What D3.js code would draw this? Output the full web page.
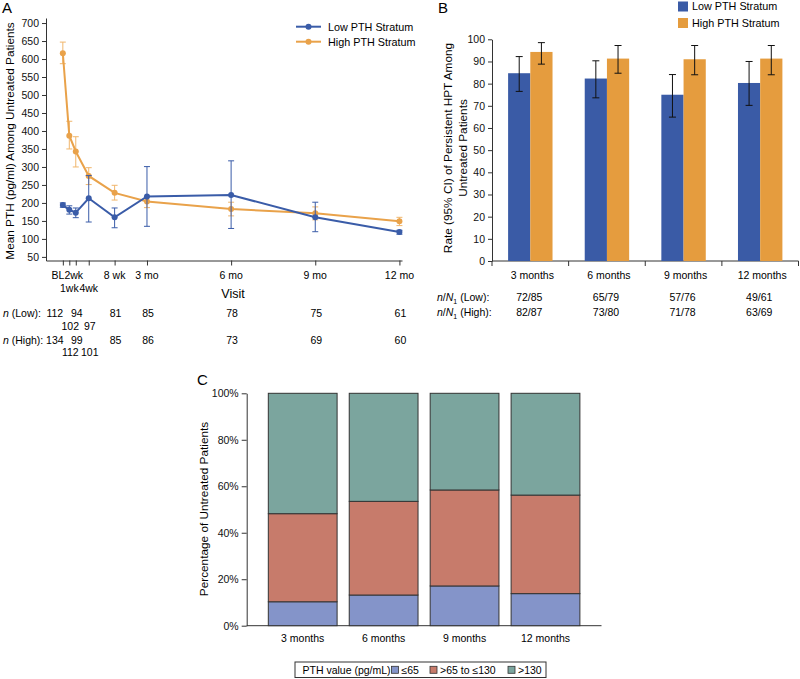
<!DOCTYPE html>
<html><head><meta charset="utf-8">
<script src="https://cdn.jsdelivr.net/npm/d3@7"></script>
<style>
body{margin:0;background:#fff;}
svg{display:block;font-family:"Liberation Sans",Arial,sans-serif;}
</style></head>
<body><svg id="c" width="800" height="679"></svg>
<script>
// ---------- Panel A data ----------
const visitWeeks = [0, 1, 2, 4, 8, 13, 26, 39, 52];
const visitLabels = ["BL", "1wk", "2wk", "4wk", "8 wk", "3 mo", "6 mo", "9 mo", "12 mo"];
const lowMean = [194, 181, 173, 213, 160, 218, 222, 160, 119];
const lowLo   = [188, 169, 159, 147, 131, 135, 129, 120, 113];
const lowHi   = [200, 192, 186, 276, 186, 301, 317, 202, 124];
const highMean = [616, 387, 343, 275, 228, 204, 183, 171, 149];
const highLo   = [587, 350, 300, 251, 208, 187, 164, 153, 137];
const highHi   = [647, 427, 384, 298, 249, 218, 202, 189, 160];
const nLow  = [112, 102, 94, 97, 81, 85, 78, 75, 61];
const nHigh = [134, 112, 99, 101, 85, 86, 73, 69, 60];
const yTicksA = [50, 100, 150, 200, 250, 300, 350, 400, 450, 500, 550, 600, 650, 700];

// ---------- Panel B data ----------
const months = ["3 months", "6 months", "9 months", "12 months"];
const strata = ["Low PTH Stratum", "High PTH Stratum"];
const rateLow  = [84.7, 82.3, 75.0, 80.3];
const rateLowLo = [76.5, 73.6, 64.9, 70.2];
const rateLowHi = [92.2, 90.3, 84.1, 90.0];
const rateHigh = [94.3, 91.3, 91.0, 91.3];
const rateHighLo = [88.8, 84.7, 84.0, 84.0];
const rateHighHi = [98.5, 97.2, 97.2, 97.2];
const nNLow  = ["72/85", "65/79", "57/76", "49/61"];
const nNHigh = ["82/87", "73/80", "71/78", "63/69"];
const yTicksB = [0, 10, 20, 30, 40, 50, 60, 70, 80, 90, 100];

// ---------- Panel C data ----------
const pthCats = ["≤65", ">65 to ≤130", ">130"];
const pthLe65   = [10.3, 13.2, 17.1, 13.8];
const pth65to130 = [37.9, 40.3, 41.3, 42.4];
const pthGt130  = [51.8, 46.5, 41.6, 43.8];
const yTicksC = [0, 20, 40, 60, 80, 100];

// ---------- styles ----------
const BLUE = "#3a5ca8", ORANGE = "#e9a24a", ORANGE_ERR = "#f0b66c";
const BAR_BLUE = "#3a5ba6", BAR_ORANGE = "#e59c3e";
const C_COLORS = ["#8494c9", "#c77b6b", "#7ba59e"];
const AXC = "#333";
const FS = 10.5;

const svg = d3.select("#c");

function styleAxis(g){
  g.select(".domain").attr("stroke", AXC);
  g.selectAll(".tick line").attr("stroke", AXC);
  g.selectAll(".tick text").attr("fill", "#111").style("font-size", FS + "px").style("font-family", '"Liberation Sans",Arial,sans-serif');
}

// ================= PANEL A =================
const xA = d3.scaleLinear().domain([-2.6, 52.4]).range([46, 402]);
const yA = d3.scaleLinear().domain([40, 714]).range([260.5, 18]);

svg.append("text").attr("x", 2).attr("y", 13).style("font-size", "15px").text("A");

const gYA = svg.append("g").attr("transform", "translate(46,0)")
  .call(d3.axisLeft(yA).tickValues(yTicksA).tickSize(4).tickSizeOuter(0).tickPadding(3));
styleAxis(gYA);

const gXA = svg.append("g").attr("transform", "translate(0,260.5)")
  .call(d3.axisBottom(xA).tickValues(visitWeeks).tickSize(5).tickSizeOuter(0).tickFormat(""));
styleAxis(gXA);

const labelRowA = [0, 1, 0, 1, 0, 0, 0, 0, 0];
const labelDxA = [-5, 0, -2, 0, 0, 0, 0, 0, 0];
svg.append("g").selectAll("text").data(visitWeeks).join("text")
  .attr("x", (d, i) => xA(d) + labelDxA[i])
  .attr("y", (d, i) => labelRowA[i] ? 291.5 : 279.3)
  .attr("text-anchor", "middle").style("font-size", FS + "px")
  .text((d, i) => visitLabels[i]);

svg.append("text").attr("x", 233).attr("y", 298).attr("text-anchor", "middle")
  .style("font-size", "12.5px").text("Visit");

svg.append("text").attr("transform", "translate(14,141) rotate(-90)")
  .attr("text-anchor", "middle").style("font-size", "11.8px")
  .text("Mean PTH (pg/ml) Among Untreated Patients");

function drawSeries(mean, lo, hi, color, errColor){
  const g = svg.append("g");
  g.selectAll("line.eb").data(visitWeeks).join("line").attr("class", "eb")
    .attr("x1", d => xA(d)).attr("x2", d => xA(d))
    .attr("y1", (d, i) => yA(lo[i])).attr("y2", (d, i) => yA(hi[i]))
    .attr("stroke", errColor).attr("stroke-width", 1);
  [lo, hi].forEach(arr => {
    g.selectAll(null).data(visitWeeks).join("line")
      .attr("x1", d => xA(d) - 3).attr("x2", d => xA(d) + 3)
      .attr("y1", (d, i) => yA(arr[i])).attr("y2", (d, i) => yA(arr[i]))
      .attr("stroke", errColor).attr("stroke-width", 1);
  });
  const line = d3.line().x((d, i) => xA(visitWeeks[i])).y(d => yA(d));
  g.append("path").datum(mean).attr("d", line).attr("fill", "none")
    .attr("stroke", color).attr("stroke-width", 2);
  g.selectAll("circle").data(mean).join("circle")
    .attr("cx", (d, i) => xA(visitWeeks[i])).attr("cy", d => yA(d)).attr("r", 3)
    .attr("fill", color);
}
drawSeries(highMean, highLo, highHi, ORANGE, ORANGE_ERR);
drawSeries(lowMean, lowLo, lowHi, BLUE, BLUE);

// legend A
const legA = svg.append("g");
[[BLUE, strata[0], 26.7], [ORANGE, strata[1], 41.7]].forEach(([c, t, y]) => {
  legA.append("line").attr("x1", 296).attr("x2", 321).attr("y1", y).attr("y2", y)
    .attr("stroke", c).attr("stroke-width", 2);
  legA.append("circle").attr("cx", 308.5).attr("cy", y).attr("r", 3).attr("fill", c);
  legA.append("text").attr("x", 328).attr("y", y + 3.8).style("font-size", "10.8px").text(t);
});

// n rows A
function nRow(label, vals, y1, y2){
  const t = svg.append("text").attr("x", 3).attr("y", y1 + 3.8).style("font-size", FS + "px");
  t.append("tspan").style("font-style", "italic").text("n");
  t.append("tspan").text(label);
  svg.append("g").selectAll("text").data(vals).join("text")
    .attr("x", (d, i) => xA(visitWeeks[i]) + (i === 0 ? -8 : 1))
    .attr("y", (d, i) => (labelRowA[i] ? y2 : y1) + 3.8)
    .attr("text-anchor", "middle").style("font-size", FS + "px").text(d => d);
}
nRow(" (Low):", nLow, 313, 326);
nRow(" (High):", nHigh, 340, 352);

// ================= PANEL B =================
const xB = d3.scaleBand().domain(months).range([492, 798.5]).padding(0);
const xB1 = d3.scaleBand().domain(strata).range([0, xB.bandwidth()]).paddingInner(0).paddingOuter(0.725);
const yB = d3.scaleLinear().domain([0, 100]).range([261, 39.3]);

svg.append("text").attr("x", 438).attr("y", 12.5).style("font-size", "15px").text("B");

const gYB = svg.append("g").attr("transform", "translate(492,0)")
  .call(d3.axisLeft(yB).tickValues(yTicksB).tickSize(4).tickSizeOuter(0).tickPadding(3));
styleAxis(gYB);

const gXB = svg.append("g").attr("transform", "translate(0,261)");
gXB.append("line").attr("x1", 492).attr("x2", 798.5).attr("y1", 0).attr("y2", 0).attr("stroke", AXC);
const bounds = months.map(m => xB(m)).concat([xB(months[3]) + xB.bandwidth()]);
gXB.selectAll("line.t").data(bounds).join("line").attr("class", "t")
  .attr("x1", d => d).attr("x2", d => d).attr("y1", 0).attr("y2", 5).attr("stroke", AXC);
gXB.selectAll("text").data(months).join("text")
  .attr("x", d => xB(d) + xB.bandwidth() / 2 + 2).attr("y", 18.3)
  .attr("text-anchor", "middle").style("font-size", FS + "px").text(d => d);

const bSeries = [
  {s: strata[0], v: rateLow, lo: rateLowLo, hi: rateLowHi, c: BAR_BLUE},
  {s: strata[1], v: rateHigh, lo: rateHighLo, hi: rateHighHi, c: BAR_ORANGE}
];
bSeries.forEach(S => {
  const g = svg.append("g");
  g.selectAll("rect").data(months).join("rect")
    .attr("x", d => xB(d) + xB1(S.s)).attr("width", xB1.bandwidth())
    .attr("y", (d, i) => yB(S.v[i])).attr("height", (d, i) => yB(0) - yB(S.v[i]))
    .attr("fill", S.c);
});
bSeries.forEach(S => {
  const g = svg.append("g");
  const cx = d => xB(d) + xB1(S.s) + xB1.bandwidth() / 2;
  g.selectAll("line.v").data(months).join("line").attr("class", "v")
    .attr("x1", cx).attr("x2", cx)
    .attr("y1", (d, i) => yB(S.lo[i])).attr("y2", (d, i) => yB(S.hi[i]))
    .attr("stroke", "#111").attr("stroke-width", 1);
  [S.lo, S.hi].forEach(arr => {
    g.selectAll(null).data(months).join("line")
      .attr("x1", d => cx(d) - 3.5).attr("x2", d => cx(d) + 3.5)
      .attr("y1", (d, i) => yB(arr[i])).attr("y2", (d, i) => yB(arr[i]))
      .attr("stroke", "#111").attr("stroke-width", 1);
  });
});

svg.append("text").attr("transform", "translate(452,148) rotate(-90)")
  .attr("text-anchor", "middle").style("font-size", "11.8px")
  .text("Rate (95% CI) of Persistent HPT Among");
svg.append("text").attr("transform", "translate(467,148) rotate(-90)")
  .attr("text-anchor", "middle").style("font-size", "11.8px")
  .text("Untreated Patients");

// legend B
[[BAR_BLUE, strata[0], 6.5], [BAR_ORANGE, strata[1], 23]].forEach(([c, t, y]) => {
  svg.append("rect").attr("x", 678).attr("y", y - 5).attr("width", 10).attr("height", 10).attr("fill", c);
  svg.append("text").attr("x", 692).attr("y", y + 3.8).style("font-size", "10.8px").text(t);
});

// n/N rows
function nNRow(label, vals, y){
  const t = svg.append("text").attr("x", 437).attr("y", y + 3.8).style("font-size", FS + "px");
  t.append("tspan").style("font-style", "italic").text("n");
  t.append("tspan").text("/");
  t.append("tspan").style("font-style", "italic").text("N");
  t.append("tspan").attr("dy", 2.5).style("font-size", "7px").text("1");
  t.append("tspan").attr("dy", -2.5).text(label);
  svg.append("g").selectAll("text").data(vals).join("text")
    .attr("x", (d, i) => xB(months[i]) + xB.bandwidth() / 2 - 1)
    .attr("y", y + 3.8).attr("text-anchor", "middle").style("font-size", FS + "px").text(d => d);
}
nNRow(" (Low):", nNLow, 297.3);
nNRow(" (High):", nNHigh, 312.3);

// ================= PANEL C =================
const xC = d3.scaleBand().domain(months).range([246.7, 601.5]).paddingInner(0.15).paddingOuter(0.267);
const yC = d3.scaleLinear().domain([0, 100]).range([625.7, 393.3]);

svg.append("text").attr("x", 197).attr("y", 385).style("font-size", "15px").text("C");

const gYC = svg.append("g").attr("transform", "translate(246.7,0)")
  .call(d3.axisLeft(yC).tickValues(yTicksC).tickSize(5).tickSizeOuter(0).tickPadding(3).tickFormat(d => d + "%"));
styleAxis(gYC);
svg.append("line").attr("x1", 246.7).attr("x2", 601.5).attr("y1", 625.7).attr("y2", 625.7).attr("stroke", AXC);
svg.append("g").selectAll("text").data(months).join("text")
  .attr("x", d => xC(d) + xC.bandwidth() / 2).attr("y", 642)
  .attr("text-anchor", "middle").style("font-size", FS + "px").text(d => d);

const stackRows = months.map((m, i) => ({m, a: pthLe65[i], b: pth65to130[i], c: pthGt130[i]}));
const stack = d3.stack().keys(["a", "b", "c"])(stackRows);
stack.forEach((layer, k) => {
  svg.append("g").selectAll("rect").data(layer).join("rect")
    .attr("x", d => xC(d.data.m)).attr("width", xC.bandwidth())
    .attr("y", d => yC(d[1])).attr("height", d => yC(d[0]) - yC(d[1]))
    .attr("fill", C_COLORS[k]).attr("stroke", "#333").attr("stroke-width", 1);
});

svg.append("text").attr("transform", "translate(208,509) rotate(-90)")
  .attr("text-anchor", "middle").style("font-size", "11.8px")
  .text("Percentage of Untreated Patients");

// legend C
const legC = svg.append("g");
legC.append("rect").attr("x", 295).attr("y", 662).attr("width", 251).attr("height", 15.5)
  .attr("fill", "#fff").attr("stroke", "#333").attr("stroke-width", 1);
legC.append("text").attr("x", 302.5).attr("y", 673.5).style("font-size", FS + "px").text("PTH value (pg/mL)");
const legCX = [391.5, 430, 508];
pthCats.forEach((t, k) => {
  legC.append("rect").attr("x", legCX[k]).attr("y", 666.3).attr("width", 7).attr("height", 7)
    .attr("fill", C_COLORS[k]).attr("stroke", "#333").attr("stroke-width", 0.8);
  legC.append("text").attr("x", legCX[k] + 10).attr("y", 673.5).style("font-size", FS + "px").text(t);
});
</script></body></html>
